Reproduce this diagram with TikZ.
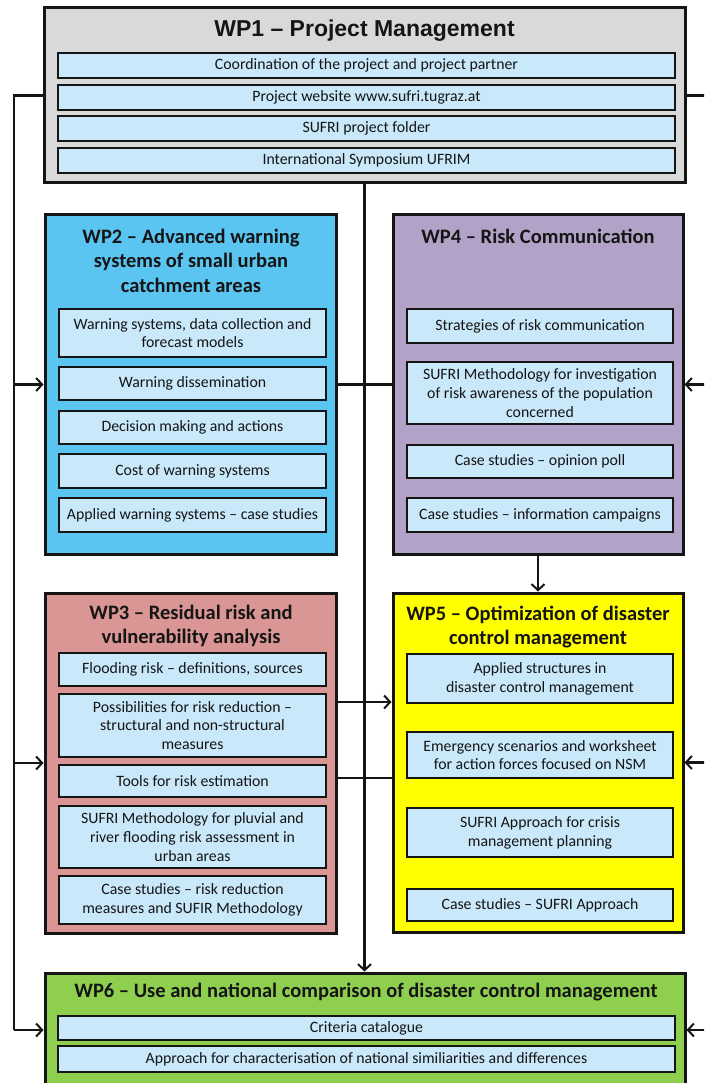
\documentclass[tikz,border=0pt]{standalone}
\usepackage{fontspec}
\setmainfont{Carlito}
\newfontfamily\headfont[Ligatures=TeX]{Liberation Sans}
\usetikzlibrary{arrows.meta}

\definecolor{wpgray}{HTML}{D9D9D9}
\definecolor{wpblue}{HTML}{5BC5F2}
\definecolor{wppurple}{HTML}{B3A2C7}
\definecolor{wprose}{HTML}{D99694}
\definecolor{wpyellow}{HTML}{FFFF00}
\definecolor{wpgreen}{HTML}{8FCF4F}
\definecolor{taskfill}{HTML}{C9E8FA}
\definecolor{ink}{HTML}{151515}

\begin{document}
\begin{tikzpicture}[x=1pt,y=-1pt,
  wpbox/.style={draw=ink, line width=3pt, inner sep=0pt},
  taskbox/.style={draw=ink, line width=1.5pt, fill=taskfill, inner sep=0pt,
    align=center, text=ink, font=\fontsize{15.8}{18.8}\selectfont},
  wptitle/.style={align=center, inner sep=0pt, text=ink,
    font=\fontsize{20.5}{24.5}\selectfont\bfseries},
  conn/.style={draw=ink, line width=2.2pt},
  arr/.style={conn, -{Straight Barb[length=6pt,width=13pt,line width=2pt]}}
]
\useasboundingbox (0,0) rectangle (704,1083);
\fill[white] (0,0) rectangle (704,1083);
\clip (0,0) rectangle (704,1083);

% ---------- work package frames ----------
\node[wpbox, fill=wpgray,   minimum width=641pt, minimum height=175pt] (wp1) at (364.5,95.5) {};
\node[wpbox, fill=wpblue,   minimum width=291pt, minimum height=339pt] (wp2) at (190.5,384.5) {};
\node[wpbox, fill=wppurple, minimum width=290pt, minimum height=339pt] (wp4) at (538,384.5) {};
\node[wpbox, fill=wprose,   minimum width=291pt, minimum height=340pt] (wp3) at (190.5,763) {};
\node[wpbox, fill=wpyellow, minimum width=290pt, minimum height=339pt] (wp5) at (538,762.5) {};
\node[wpbox, fill=wpgreen,  minimum width=640pt, minimum height=137pt] (wp6) at (365,1041.5) {};

% ---------- titles ----------
\node[inner sep=0pt, text=ink, font=\headfont\bfseries\fontsize{23}{27}\selectfont] (h1) at (364.5,31) {WP1 -- Project Management};
\node[wptitle] (h2) at (191,260.5) {WP2 -- Advanced warning\\systems of small urban\\catchment areas};
\node[wptitle] (h4) at (538,236) {WP4 -- Risk Communication};
\node[wptitle] (h3) at (191,626) {WP3 -- Residual risk and\\vulnerability analysis};
\node[wptitle] (h5) at (538,627) {WP5 -- Optimization of disaster\\control management};
\node[wptitle] (h6) at (366,992) {WP6 -- Use and national comparison of disaster control management};

% ---------- WP1 tasks ----------
\node[taskbox, minimum width=617pt, minimum height=25pt] (t11) at (366.5,65.5) {Coordination of the project and project partner};
\node[taskbox, minimum width=617pt, minimum height=25pt] (t12) at (366.5,97.5) {Project website www.sufri.tugraz.at};
\node[taskbox, minimum width=617pt, minimum height=25pt] (t13) at (366.5,128.5) {SUFRI project folder};
\node[taskbox, minimum width=617pt, minimum height=25pt] (t14) at (366.5,160.5) {International Symposium UFRIM};

% ---------- WP2 tasks ----------
\node[taskbox, minimum width=267pt, minimum height=48pt] (t21) at (192.5,333) {Warning systems, data collection and\\forecast models};
\node[taskbox, minimum width=267pt, minimum height=33pt] (t22) at (192.5,383.5) {Warning dissemination};
\node[taskbox, minimum width=267pt, minimum height=33pt] (t23) at (192.5,427.5) {Decision making and actions};
\node[taskbox, minimum width=267pt, minimum height=34pt] (t24) at (192.5,471) {Cost of warning systems};
\node[taskbox, minimum width=267pt, minimum height=34pt] (t25) at (192.5,515) {Applied warning systems -- case studies};

% ---------- WP4 tasks ----------
\node[taskbox, minimum width=266pt, minimum height=34pt] (t41) at (540,326) {Strategies of risk communication};
\node[taskbox, minimum width=266pt, minimum height=62pt] (t42) at (540,393) {SUFRI Methodology for investigation\\of risk awareness of the population\\concerned};
\node[taskbox, minimum width=266pt, minimum height=33pt] (t43) at (540,461.5) {Case studies -- opinion poll};
\node[taskbox, minimum width=266pt, minimum height=34pt] (t44) at (540,515) {Case studies -- information campaigns};

% ---------- WP3 tasks ----------
\node[taskbox, minimum width=267pt, minimum height=33pt] (t31) at (192.5,669.5) {Flooding risk -- definitions, sources};
\node[taskbox, minimum width=267pt, minimum height=63pt] (t32) at (192.5,725.5) {Possibilities for risk reduction --\\structural and non-structural\\measures};
\node[taskbox, minimum width=267pt, minimum height=32pt] (t33) at (192.5,781) {Tools for risk estimation};
\node[taskbox, minimum width=267pt, minimum height=62pt] (t34) at (192.5,837) {SUFRI Methodology for pluvial and\\river flooding risk assessment in\\urban areas};
\node[taskbox, minimum width=267pt, minimum height=48pt] (t35) at (192.5,900) {Case studies -- risk reduction\\measures and SUFIR Methodology};

% ---------- WP5 tasks ----------
\node[taskbox, minimum width=266pt, minimum height=49pt] (t51) at (540,678.5) {Applied structures in\\disaster control management};
\node[taskbox, minimum width=266pt, minimum height=46pt] (t52) at (540,755) {Emergency scenarios and worksheet\\for action forces focused on NSM};
\node[taskbox, minimum width=266pt, minimum height=49pt] (t53) at (540,832.5) {SUFRI Approach for crisis\\management planning};
\node[taskbox, minimum width=266pt, minimum height=32pt] (t54) at (540,905) {Case studies -- SUFRI Approach};

% ---------- WP6 tasks ----------
\node[taskbox, minimum width=617pt, minimum height=24pt] (t61) at (366.5,1028) {Criteria catalogue};
\node[taskbox, minimum width=617pt, minimum height=26pt] (t62) at (366.5,1059) {Approach for characterisation of national similiarities and differences};

% ---------- connectors ----------
% left bus from WP1
\coordinate (L0) at (14,95.5);
\coordinate (L1) at (14,1030);
\draw[conn] (wp1.west) -- (L0) -- (L1);
\draw[arr] (wp2.west -| L0) -- (wp2.west);
\draw[arr] (wp3.west -| L0) -- (wp3.west);
\draw[arr] (L1) -- (L1 -| wp6.west);

% right bus from WP1 (runs just beyond the page edge)
\coordinate (R0) at (712,95.5);
\coordinate (R1) at (712,1030);
\draw[conn] (wp1.east) -- (R0) -- (R1);
\draw[arr] (wp4.east -| R0) -- (wp4.east);
\draw[arr] (wp5.east -| R0) -- (wp5.east);
\draw[arr] (R1) -- (R1 -| wp6.east);

% central bus from WP1 to WP6
\draw[arr] (wp1.south) -- (wp1.south |- wp6.north);

% cross links
\draw[conn] (wp2.east) -- (wp4.west);
\draw[arr] (wp4.south) -- (wp5.north);
\coordinate (y35a) at (0,702);
\coordinate (y35b) at (0,778);
\draw[arr] (wp3.east |- y35a) -- (wp5.west |- y35a);
\draw[conn] (wp3.east |- y35b) -- (wp5.west |- y35b);
\end{tikzpicture}
\end{document}
